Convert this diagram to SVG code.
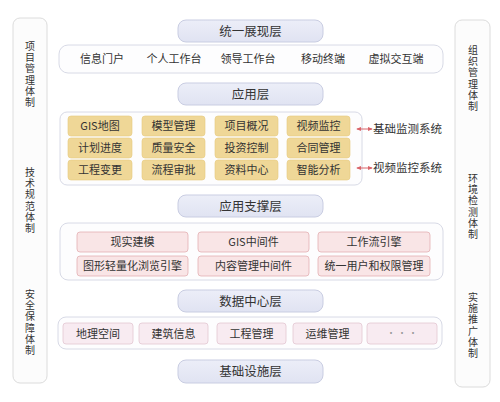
<svg xmlns="http://www.w3.org/2000/svg" width="500" height="402" viewBox="0 0 500 402">
<defs>
<linearGradient id="hg" x1="0" y1="0" x2="0" y2="1">
<stop offset="0" stop-color="#eceef8"/>
<stop offset="1" stop-color="#e0e3f2"/>
</linearGradient>
<marker id="ah" viewBox="0 0 6 6" refX="5" refY="3" markerWidth="5" markerHeight="5" orient="auto-start-reverse">
<path d="M0,0.5 L6,3 L0,5.5 Z" fill="#d9646a"/>
</marker>
<style>
text{font-family:"Noto Sans CJK SC","Noto Sans",sans-serif;fill:#333;}
.hd{fill:url(#hg);stroke:#c9cde2;stroke-width:1;}
.ht{font-size:12.5px;text-anchor:middle;}
.side{fill:#fcfcfc;stroke:#dcdcdc;stroke-width:1;}
.st{font-family:"Liberation Sans","Noto Sans CJK SC",sans-serif;font-size:10px;text-anchor:middle;}
.box{fill:#fdfdfe;stroke:#d8dae6;stroke-width:1;}
.ct{font-size:11px;text-anchor:middle;}
.tan{fill:#efd797;stroke:#e6c97d;stroke-width:0.6;}
.pink{fill:#f9e5e6;stroke:#e3aeb2;stroke-width:0.8;}
.lav{fill:#f8ebf1;stroke:#e2c6d2;stroke-width:0.8;}
.lb{font-size:11.5px;}
</style>
</defs>
<g id="side-left">
<rect class="side" x="13" y="18" width="34" height="365" rx="7"/>
<text class="st"><tspan x="30" y="50">项</tspan><tspan x="30" y="61.2">目</tspan><tspan x="30" y="72.4">管</tspan><tspan x="30" y="83.6">理</tspan><tspan x="30" y="94.8">体</tspan><tspan x="30" y="106">制</tspan></text>
<text class="st"><tspan x="30" y="176">技</tspan><tspan x="30" y="187.2">术</tspan><tspan x="30" y="198.4">规</tspan><tspan x="30" y="209.6">范</tspan><tspan x="30" y="220.8">体</tspan><tspan x="30" y="232">制</tspan></text>
<text class="st"><tspan x="30" y="298">安</tspan><tspan x="30" y="309.2">全</tspan><tspan x="30" y="320.4">保</tspan><tspan x="30" y="331.6">障</tspan><tspan x="30" y="342.8">体</tspan><tspan x="30" y="354">制</tspan></text>
</g>
<g id="side-right">
<rect class="side" x="455" y="20" width="35" height="367" rx="7"/>
<text class="st"><tspan x="473" y="54">组</tspan><tspan x="473" y="65.2">织</tspan><tspan x="473" y="76.4">管</tspan><tspan x="473" y="87.6">理</tspan><tspan x="473" y="98.8">体</tspan><tspan x="473" y="110">制</tspan></text>
<text class="st"><tspan x="473" y="182">环</tspan><tspan x="473" y="193.2">境</tspan><tspan x="473" y="204.4">检</tspan><tspan x="473" y="215.6">测</tspan><tspan x="473" y="226.8">体</tspan><tspan x="473" y="238">制</tspan></text>
<text class="st"><tspan x="473" y="301">实</tspan><tspan x="473" y="312.2">施</tspan><tspan x="473" y="323.4">推</tspan><tspan x="473" y="334.6">广</tspan><tspan x="473" y="345.8">体</tspan><tspan x="473" y="357">制</tspan></text>
</g>
<g id="layer-present">
<rect class="hd" x="178" y="20" width="145" height="22" rx="8"/>
<text class="ht" x="250.5" y="35.5">统一展现层</text>
</g>
<g id="present-box">
<rect class="box" x="59" y="45" width="384" height="28" rx="9"/>
<text class="ct" x="102" y="63">信息门户</text>
<text class="ct" x="174" y="63">个人工作台</text>
<text class="ct" x="248" y="63">领导工作台</text>
<text class="ct" x="323" y="63">移动终端</text>
<text class="ct" x="396" y="63">虚拟交互端</text>
</g>
<g id="layer-app">
<rect class="hd" x="178" y="83" width="145" height="22" rx="8"/>
<text class="ht" x="250.5" y="98.5">应用层</text>
</g>
<g id="app-box">
<rect class="box" x="60" y="112" width="302" height="73" rx="7"/>
<rect class="tan" x="68" y="116" width="64" height="20" rx="3"/><text class="ct" x="100" y="130">GIS地图</text>
<rect class="tan" x="142" y="116" width="63" height="20" rx="3"/><text class="ct" x="173.5" y="130">模型管理</text>
<rect class="tan" x="215" y="116" width="63" height="20" rx="3"/><text class="ct" x="246.5" y="130">项目概况</text>
<rect class="tan" x="287" y="116" width="63" height="20" rx="3"/><text class="ct" x="318.5" y="130">视频监控</text>
<rect class="tan" x="68" y="138" width="64" height="20" rx="3"/><text class="ct" x="100" y="152">计划进度</text>
<rect class="tan" x="142" y="138" width="63" height="20" rx="3"/><text class="ct" x="173.5" y="152">质量安全</text>
<rect class="tan" x="215" y="138" width="63" height="20" rx="3"/><text class="ct" x="246.5" y="152">投资控制</text>
<rect class="tan" x="287" y="138" width="63" height="20" rx="3"/><text class="ct" x="318.5" y="152">合同管理</text>
<rect class="tan" x="68" y="160" width="64" height="20" rx="3"/><text class="ct" x="100" y="174">工程变更</text>
<rect class="tan" x="142" y="160" width="63" height="20" rx="3"/><text class="ct" x="173.5" y="174">流程审批</text>
<rect class="tan" x="215" y="160" width="63" height="20" rx="3"/><text class="ct" x="246.5" y="174">资料中心</text>
<rect class="tan" x="287" y="160" width="63" height="20" rx="3"/><text class="ct" x="318.5" y="174">智能分析</text>
</g>
<g id="connectors">
<line x1="357" y1="129" x2="372" y2="129" stroke="#d9646a" stroke-width="1" marker-start="url(#ah)" marker-end="url(#ah)"/>
<line x1="357" y1="168" x2="372" y2="168" stroke="#d9646a" stroke-width="1" marker-start="url(#ah)" marker-end="url(#ah)"/>
</g>
<g id="sys-basic"><text class="lb" x="373" y="133">基础监测系统</text></g>
<g id="sys-video"><text class="lb" x="373" y="172">视频监控系统</text></g>
<g id="layer-support">
<rect class="hd" x="178" y="195" width="145" height="22" rx="8"/>
<text class="ht" x="250.5" y="210.5">应用支撑层</text>
</g>
<g id="support-box">
<rect class="box" x="60" y="223" width="383" height="57" rx="8"/>
<rect class="pink" x="77" y="232" width="111" height="20" rx="3"/><text class="ct" x="132.5" y="246">现实建模</text>
<rect class="pink" x="198" y="232" width="111" height="20" rx="3"/><text class="ct" x="253.5" y="246">GIS中间件</text>
<rect class="pink" x="318" y="232" width="112" height="20" rx="3"/><text class="ct" x="374" y="246">工作流引擎</text>
<rect class="pink" x="77" y="256" width="111" height="20" rx="3"/><text class="ct" x="132.5" y="270">图形轻量化浏览引擎</text>
<rect class="pink" x="198" y="256" width="111" height="20" rx="3"/><text class="ct" x="253.5" y="270">内容管理中间件</text>
<rect class="pink" x="318" y="256" width="112" height="20" rx="3"/><text class="ct" x="374" y="270">统一用户和权限管理</text>
</g>
<g id="layer-data">
<rect class="hd" x="178" y="290" width="145" height="22" rx="8"/>
<text class="ht" x="250.5" y="305.5">数据中心层</text>
</g>
<g id="data-box">
<rect class="box" x="58" y="317" width="384" height="32" rx="8"/>
<rect class="lav" x="63" y="323" width="70" height="21" rx="3"/><text class="ct" x="98" y="337.5">地理空间</text>
<rect class="lav" x="139" y="323" width="69" height="21" rx="3"/><text class="ct" x="173.5" y="337.5">建筑信息</text>
<rect class="lav" x="217" y="323" width="69" height="21" rx="3"/><text class="ct" x="251.5" y="337.5">工程管理</text>
<rect class="lav" x="293" y="323" width="69" height="21" rx="3"/><text class="ct" x="327.5" y="337.5">运维管理</text>
<rect class="lav" x="367" y="323" width="70" height="21" rx="3"/><text class="ct" x="402" y="336" style="font-size:9px;fill:#999">· · ·</text>
</g>
<g id="layer-infra">
<rect class="hd" x="178" y="360" width="145" height="23" rx="8"/>
<text class="ht" x="250.5" y="376">基础设施层</text>
</g>
</svg>
